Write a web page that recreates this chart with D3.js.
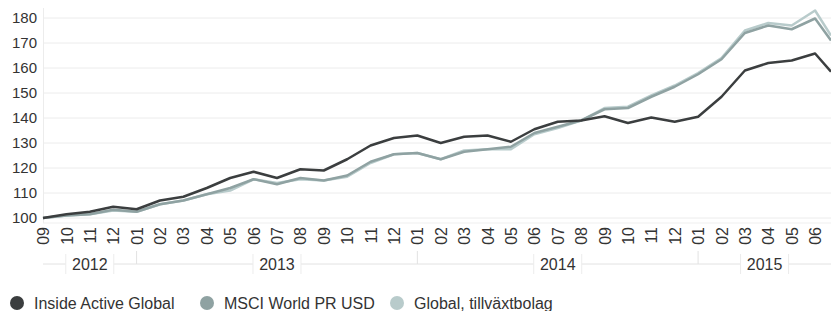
<!DOCTYPE html>
<html>
<head>
<meta charset="utf-8">
<script src="https://cdn.jsdelivr.net/npm/d3@7"></script>
<style>
  body { margin: 0; background: #fff; }
  svg { display: block; font-family: "Liberation Sans", Arial, sans-serif; }
</style>
</head>
<body>
<svg width="831" height="311"></svg>
<script>
// month labels, 2012-09 .. 2015-06 (last data point is a partial July)
var months = ['09','10','11','12',
  '01','02','03','04','05','06','07','08','09','10','11','12',
  '01','02','03','04','05','06','07','08','09','10','11','12',
  '01','02','03','04','05','06'];
var years = [
  { label: '2012', from: 0, to: 4 },
  { label: '2013', from: 4, to: 16 },
  { label: '2014', from: 16, to: 28 },
  { label: '2015', from: 28, to: 33.68 }
];
// fraction of July 2015 covered by the last value
var lastPoint = 33.68;

var insideActive = [100, 101.5, 102.5, 104.5, 103.5, 107, 108.5, 112, 116, 118.5, 116, 119.5,
  119, 123.5, 129, 132, 133, 130, 132.5, 133, 130.5, 135.5, 138.5, 139, 140.7, 138, 140.2,
  138.5, 140.5, 148.5, 159, 162, 163, 165.8, 158.5];
var msciWorld = [100, 101, 101.5, 103.3, 102.5, 105.5, 107, 109.5, 112, 115.5, 113.5, 116,
  115, 117, 122.5, 125.5, 126, 123.5, 126.5, 127.5, 128.5, 134, 136.5, 139, 143.5, 144,
  148.5, 152.5, 157.5, 163.5, 174, 177, 175.5, 179.8, 171];
var globalGrowth = [100, 101, 101.5, 103, 102.5, 105.5, 107, 109.5, 111, 115.5, 114, 115.5,
  115, 116.5, 122, 125.5, 126, 123.5, 127, 127.5, 127.5, 133.5, 136, 139, 144, 144.5, 149,
  153, 158, 164, 175, 178, 177, 183, 173];

var series = [
  { name: 'Global, tillväxtbolag', values: globalGrowth, color: '#b8cbcb' },
  { name: 'MSCI World PR USD', values: msciWorld, color: '#8fa2a2' },
  { name: 'Inside Active Global', values: insideActive, color: '#3b3e3f' }
];
var legendOrder = [series[2], series[1], series[0]];

var yTicks = [100, 110, 120, 130, 140, 150, 160, 170, 180];

var svg = d3.select('svg');
var plotLeft = 43, plotRight = 831, plotTop = 18, plotBottom = 218;

var x = d3.scaleLinear().domain([0, lastPoint]).range([plotLeft, plotRight]);
var y = d3.scaleLinear().domain([100, 180]).range([plotBottom, plotTop]);

function idx(d, i, arr) { return i === arr.length - 1 ? lastPoint : i; }

// grid
svg.append('g').selectAll('line')
  .data(yTicks)
  .enter().append('line')
  .attr('x1', plotLeft).attr('x2', plotRight)
  .attr('y1', function (d) { return y(d); })
  .attr('y2', function (d) { return y(d); })
  .attr('stroke', '#ececec').attr('stroke-width', 1);
svg.append('line')
  .attr('x1', plotLeft + 0.5).attr('x2', plotLeft + 0.5)
  .attr('y1', 8).attr('y2', plotBottom + 5)
  .attr('stroke', '#ececec');
svg.append('line')
  .attr('x1', plotLeft).attr('x2', plotRight)
  .attr('y1', plotBottom + 5).attr('y2', plotBottom + 5)
  .attr('stroke', '#efefef');

// y labels
var yAxis = d3.axisLeft(y).tickValues(yTicks).tickSize(0).tickPadding(6);
var yg = svg.append('g').attr('transform', 'translate(' + plotLeft + ',0)').call(yAxis);
yg.select('.domain').remove();
yg.selectAll('text').attr('font-size', 15).attr('fill', '#333')
  .attr('font-family', '"Liberation Sans", Arial, sans-serif');

// x month labels
var xAxis = d3.axisBottom(x).tickValues(d3.range(months.length))
  .tickFormat(function (i) { return months[i]; }).tickSize(0);
var xg = svg.append('g').attr('transform', 'translate(0,' + (plotBottom + 9) + ')').call(xAxis);
xg.select('.domain').remove();
xg.selectAll('text')
  .attr('font-size', 16).attr('fill', '#333')
  .attr('font-family', '"Liberation Sans", Arial, sans-serif')
  .attr('transform', 'rotate(-90)')
  .attr('x', 0).attr('y', 0).attr('dy', '0.35em')
  .style('text-anchor', 'end');

// year band
var yearY = 264;
svg.append('line')
  .attr('x1', plotLeft).attr('x2', plotRight)
  .attr('y1', yearY).attr('y2', yearY)
  .attr('stroke', '#e2e2e2');
svg.append('g').selectAll('line')
  .data(years.slice(1))
  .enter().append('line')
  .attr('x1', function (d) { return x(d.from); })
  .attr('x2', function (d) { return x(d.from); })
  .attr('y1', yearY - 13).attr('y2', yearY)
  .attr('stroke', '#e2e2e2');
var yl = svg.append('g').selectAll('g')
  .data(years)
  .enter().append('g')
  .attr('transform', function (d) {
    return 'translate(' + ((x(d.from) + x(d.to)) / 2) + ',' + yearY + ')';
  });
yl.append('rect')
  .attr('x', -24).attr('y', -10).attr('width', 48).attr('height', 20)
  .attr('fill', '#fff');
yl.append('line').attr('x1', -24).attr('x2', -24).attr('y1', -10).attr('y2', 10).attr('stroke', '#ececec');
yl.append('line').attr('x1', 24).attr('x2', 24).attr('y1', -10).attr('y2', 10).attr('stroke', '#ececec');
yl.append('text')
  .attr('text-anchor', 'middle').attr('dy', '0.36em')
  .attr('font-size', 16).attr('fill', '#333')
  .text(function (d) { return d.label; });

// lines
var line = d3.line()
  .x(function (d, i, arr) { return x(idx(d, i, arr)); })
  .y(function (d) { return y(d); });
svg.append('g').selectAll('path')
  .data(series)
  .enter().append('path')
  .attr('d', function (d) { return line(d.values); })
  .attr('fill', 'none')
  .attr('stroke', function (d) { return d.color; })
  .attr('stroke-width', 2.5)
  .attr('stroke-linejoin', 'round');

// legend
var legendX = [17, 207, 397];
var lg = svg.append('g').selectAll('g')
  .data(legendOrder)
  .enter().append('g')
  .attr('transform', function (d, i) { return 'translate(' + legendX[i] + ',303)'; });
lg.append('circle').attr('r', 7).attr('fill', function (d) { return d.color; });
lg.append('text')
  .attr('x', 17).attr('dy', '0.35em')
  .attr('font-size', 16).attr('fill', '#333')
  .text(function (d) { return d.name; });
</script>
</body>
</html>
